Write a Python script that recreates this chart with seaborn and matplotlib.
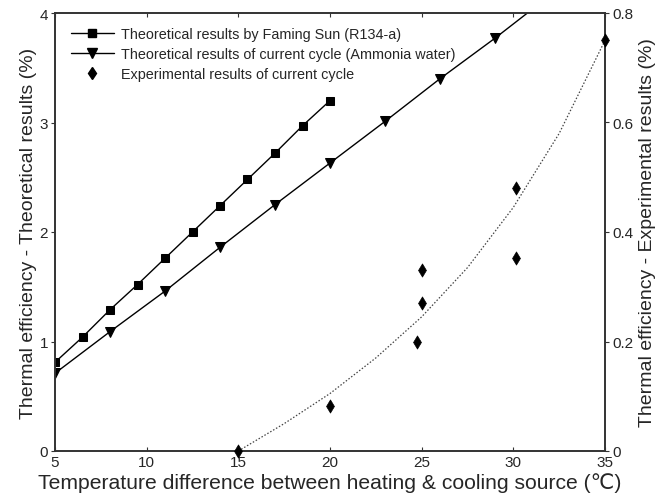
import matplotlib
matplotlib.use("Agg")
import matplotlib.pyplot as plt
import seaborn as sns
from matplotlib.lines import Line2D

# Data
x_sun = [5, 6.5, 8, 9.5, 11, 12.5, 14, 15.5, 17, 18.5, 20]
y_sun = [0.81, 1.04, 1.29, 1.52, 1.76, 2.00, 2.24, 2.48, 2.72, 2.97, 3.20]

x_cur = [5, 8, 11, 14, 17, 20, 23, 26, 29, 32]
y_cur = [0.71, 1.09, 1.46, 1.86, 2.25, 2.63, 3.01, 3.40, 3.77, 4.16]

x_exp = [15, 20, 24.75, 25, 25, 30.15, 30.15, 35]
y_exp = [0.0, 0.082, 0.199, 0.270, 0.331, 0.352, 0.480, 0.751]

x_fit = [15, 17.5, 20, 22.5, 25, 27.5, 30, 32.5, 35]
y_fit = [0.0, 0.05, 0.105, 0.17, 0.245, 0.335, 0.445, 0.58, 0.75]

labels = ["Theoretical results by Faming Sun (R134-a)",
          "Theoretical results of current cycle (Ammonia water)",
          "Experimental results of current cycle"]

sns.set_style("white")
plt.rcParams['font.family'] = ['Liberation Sans', 'DejaVu Sans']

fig = plt.figure(figsize=(6.68, 5.02), dpi=100)
ax = fig.add_axes([55/668, 1-452/502, 550/668, 438/502])
ax2 = ax.twinx()

sns.lineplot(x=x_sun, y=y_sun, ax=ax, color='k', lw=1, marker='s', markersize=5.8,
             markeredgecolor='k', sort=False)
sns.lineplot(x=x_cur, y=y_cur, ax=ax, color='k', lw=1, marker='v', markersize=6.5,
             markeredgecolor='k', sort=False)
sns.lineplot(x=x_fit, y=y_fit, ax=ax2, color='#444444', lw=0.9, linestyle=(0, (1.2, 1.5)), sort=False)
sns.scatterplot(x=x_exp, y=y_exp, ax=ax2, color='k', marker='d', s=45, edgecolor='k',
                linewidth=0.5, clip_on=False, zorder=5)

ax.set_xlim(5, 35)
ax.set_ylim(0, 4)
ax2.set_ylim(0, 0.8)
ax.set_xticks([5, 10, 15, 20, 25, 30, 35])
ax.set_yticks([0, 1, 2, 3, 4])
ax2.set_yticks([0, 0.2, 0.4, 0.6, 0.8])
ax2.set_yticklabels(['0', '0.2', '0.4', '0.6', '0.8'])

for a in (ax, ax2):
    for s in a.spines.values():
        s.set_color('#333333')
        s.set_linewidth(1.2)

ax.tick_params(axis='x', direction='in', length=3, top=True, bottom=True, labelsize=11,
               color='#333333', pad=3)
ax.tick_params(axis='y', direction='out', length=3, left=True, labelsize=11, color='#333333', pad=2)
ax2.tick_params(axis='y', direction='out', length=3, right=True, labelsize=11, color='#333333', pad=2)

ax.set_xlabel("Temperature difference between heating & cooling source (℃)", fontsize=15.2, labelpad=2)
ax.set_ylabel("Thermal efficiency - Theoretical results (%)", fontsize=14, labelpad=2)
ax2.set_ylabel("Thermal efficiency - Experimental results (%)", fontsize=14, labelpad=4)

handles = [
    Line2D([], [], color='k', lw=1, marker='s', markersize=5.8),
    Line2D([], [], color='k', lw=1, marker='v', markersize=6.5),
    Line2D([], [], color='k', lw=0, marker='d', markersize=6.5),
]
ax.legend(handles, labels, loc='upper left', frameon=False, fontsize=10.4,
          handlelength=3.0, handletextpad=0.5, labelspacing=0.4,
          bbox_to_anchor=(0.01, 0.99), borderaxespad=0.3)

for a in (ax, ax2):
    a.grid(False)

fig.savefig("out.png", dpi=100)
